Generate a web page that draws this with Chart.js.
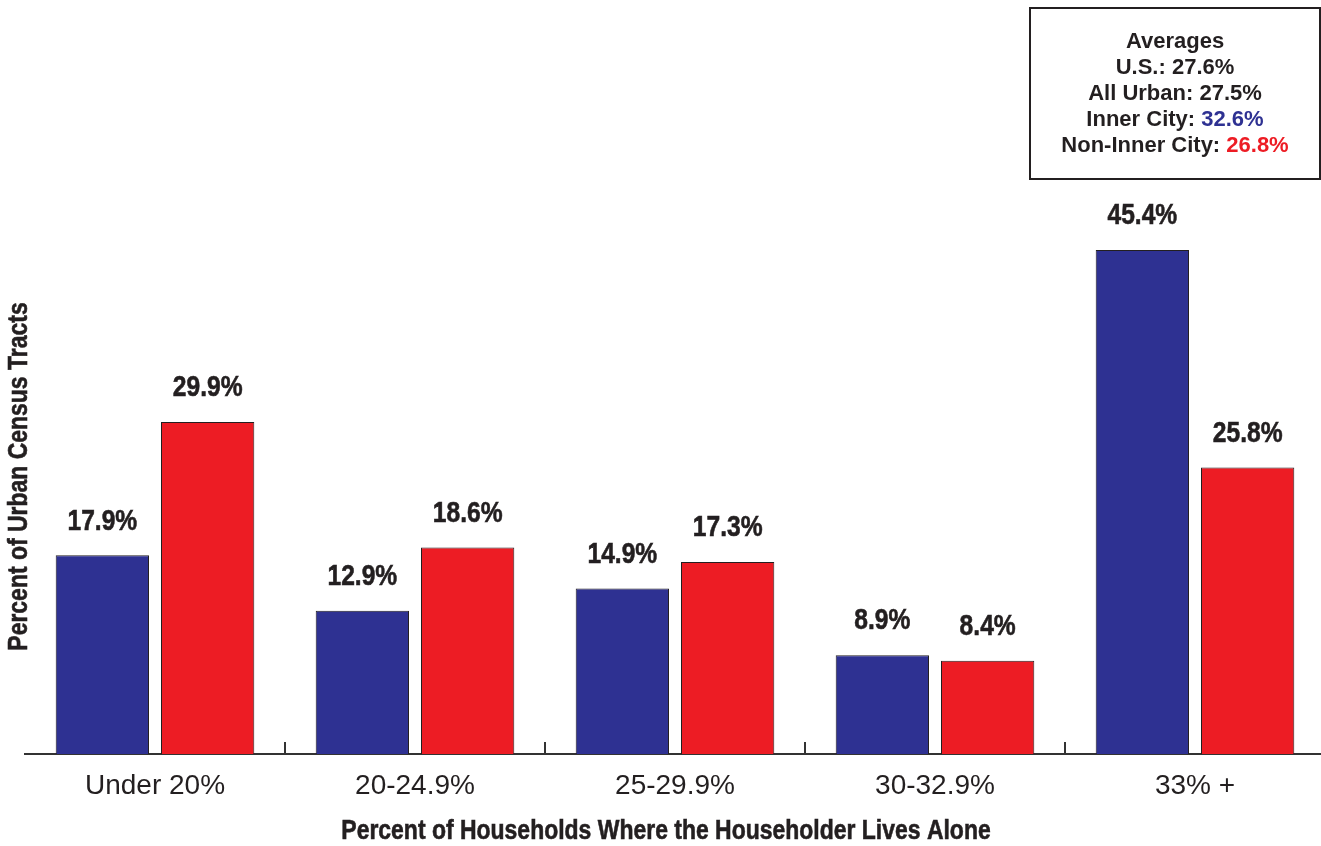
<!DOCTYPE html>
<html>
<head>
<meta charset="utf-8">
<script src="https://cdn.jsdelivr.net/npm/chart.js@4/dist/chart.umd.min.js"></script>
<style>
  html, body { margin: 0; padding: 0; background: #fff; overflow: hidden; }
  /* plot runs a few px past the right edge of the window, like the original */
  #wrap { width: 1325px; height: 846px; position: relative; }
</style>
</head>
<body>
<div id="wrap"><canvas id="myChart"></canvas></div>
<script>
// Chart data ============================================================
var categories = ['Under 20%', '20-24.9%', '25-29.9%', '30-32.9%', '33% +'];
var innerCity = [17.9, 12.9, 14.9, 8.9, 45.4];
var nonInnerCity = [29.9, 18.6, 17.3, 8.4, 25.8];

var xTitle = 'Percent of Households Where the Householder Lives Alone';
var yTitle = 'Percent of Urban Census Tracts';

// Averages box
var avgTitle = 'Averages';
var avgLabels = ['U.S.: ', 'All Urban: ', 'Inner City: ', 'Non-Inner City: '];
var avgValues = ['27.6%', '27.5%', '32.6%', '26.8%'];

var DARK = '#231f20';
var BLUE = '#2e3192';
var RED = '#ed1c24';
var avgColors = [DARK, DARK, BLUE, RED];

var SANS = '"Liberation Sans", Arial, Helvetica, sans-serif';
// no condensed face installed, so squeeze the bold sans horizontally
var SQUEEZE = 0.82;

// draw bold text squeezed sideways, centered on (x, y)
function condensedText(ctx, text, x, y, size, rotate) {
  ctx.save();
  ctx.translate(x, y);
  if (rotate) ctx.rotate(-Math.PI / 2);
  ctx.scale(SQUEEZE, 1);
  ctx.font = 'bold ' + size + 'px ' + SANS;
  ctx.fillStyle = DARK;
  ctx.strokeStyle = DARK;
  ctx.lineWidth = 0.6;
  ctx.textAlign = 'center';
  ctx.textBaseline = 'middle';
  ctx.fillText(text, 0, 0);
  ctx.strokeText(text, 0, 0);
  ctx.restore();
}

// Plugins ===============================================================

// value labels above each bar
var barLabels = {
  id: 'barLabels',
  afterDatasetsDraw: function(chart) {
    var ctx = chart.ctx;
    chart.data.datasets.forEach(function(ds, i) {
      chart.getDatasetMeta(i).data.forEach(function(bar, j) {
        condensedText(ctx, ds.data[j].toFixed(1) + '%', bar.x, bar.y - 34, 30, false);
      });
    });
  }
};

// axis titles
var axisTitles = {
  id: 'axisTitles',
  afterDraw: function(chart) {
    var ctx = chart.ctx;
    var area = chart.chartArea;
    condensedText(ctx, xTitle, (area.left + area.right) / 2 - 9, chart.height - 15, 28, false);
    condensedText(ctx, yTitle, 19, (area.top + area.bottom) / 2, 28, true);
  }
};

// small tick marks between categories, pointing up
var innerTicks = {
  id: 'innerTicks',
  afterDraw: function(chart) {
    var ctx = chart.ctx;
    var xs = chart.scales.x;
    var bottom = chart.chartArea.bottom;
    ctx.save();
    ctx.strokeStyle = '#333';
    ctx.lineWidth = 2;
    for (var i = 1; i < categories.length; i++) {
      var x = Math.round((xs.getPixelForValue(i - 1) + xs.getPixelForValue(i)) / 2);
      ctx.beginPath();
      ctx.moveTo(x, bottom);
      ctx.lineTo(x, bottom - 12);
      ctx.stroke();
    }
    ctx.restore();
  }
};

// averages box top right
var avgBox = {
  id: 'avgBox',
  afterDraw: function(chart) {
    var ctx = chart.ctx;
    var left = 1030, top = 8, w = 290, h = 171;
    var cx = left + w / 2;
    ctx.save();
    ctx.strokeStyle = DARK;
    ctx.lineWidth = 2;
    ctx.strokeRect(left, top, w, h);
    ctx.font = 'bold 22px ' + SANS;
    ctx.textBaseline = 'middle';
    ctx.textAlign = 'center';
    ctx.fillStyle = DARK;
    ctx.fillText(avgTitle, cx, 42);
    ctx.textAlign = 'left';
    for (var i = 0; i < avgLabels.length; i++) {
      var y = 68 + i * 26;
      var w1 = ctx.measureText(avgLabels[i]).width;
      var w2 = ctx.measureText(avgValues[i]).width;
      var x0 = cx - (w1 + w2) / 2;
      ctx.fillStyle = DARK;
      ctx.fillText(avgLabels[i], x0, y);
      ctx.fillStyle = avgColors[i];
      ctx.fillText(avgValues[i], x0 + w1, y);
    }
    ctx.restore();
  }
};

// Chart =================================================================
Chart.defaults.color = DARK;

var ctx = document.getElementById('myChart').getContext('2d');
var myChart = new Chart(ctx, {
  type: 'bar',
  data: {
    labels: categories,
    datasets: [{
      label: 'Inner City',
      data: innerCity,
      backgroundColor: BLUE,
      borderColor: DARK,
      borderWidth: 1
    }, {
      label: 'Non-Inner City',
      data: nonInnerCity,
      backgroundColor: RED,
      borderColor: DARK,
      borderWidth: 1
    }]
  },
  options: {
    responsive: true,
    maintainAspectRatio: false,
    animation: false,
    categoryPercentage: 0.81,
    barPercentage: 0.886,
    layout: { padding: { top: 199, right: 0, left: 0, bottom: 0 } },
    plugins: {
      legend: { display: false },
      tooltip: { enabled: false }
    },
    scales: {
      x: {
        grid: { display: false, drawTicks: false },
        border: { display: true, color: '#333', width: 2 },
        ticks: { padding: 15, font: { family: SANS, size: 28 }, color: DARK },
        afterFit: function(scale) { scale.height = 92; }
      },
      y: {
        min: 0,
        max: 50,
        grid: { display: false, drawTicks: false },
        border: { display: false },
        ticks: { display: false },
        afterFit: function(scale) { scale.width = 25; }
      }
    }
  },
  plugins: [barLabels, innerTicks, axisTitles, avgBox]
});
</script>
</body>
</html>
